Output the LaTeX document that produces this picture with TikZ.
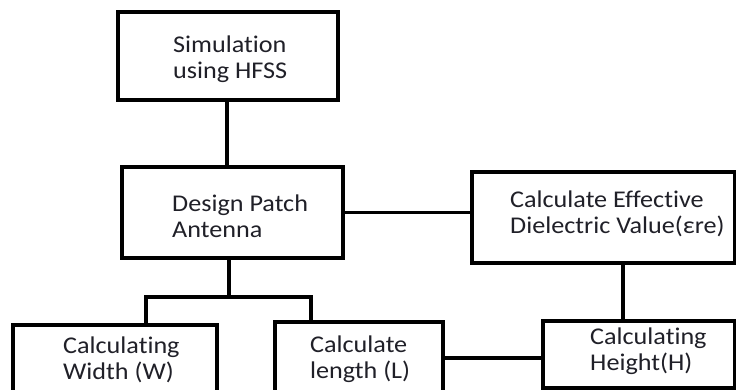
\documentclass[tikz,border=0pt]{standalone}
\usepackage{fontspec}
\setmainfont{Carlito}[Ligatures=NoCommon,FakeStretch=1.09]
\definecolor{txt}{HTML}{202028}
\begin{document}
\begin{tikzpicture}[x=1pt,y=-1pt,
  box/.style={draw=black,line width=3.6pt,inner sep=0pt,outer sep=0pt,fill=white},
  lbl/.style={anchor=west,align=left,inner sep=0pt,text=txt,font=\fontsize{24}{26}\selectfont},
  conn/.style={draw=black,line width=3.6pt},
  thin/.style={draw=black,line width=3pt}]
\useasboundingbox (0,0) rectangle (736,390);
\clip (0,0) rectangle (736,390);
\fill[white] (0,0) rectangle (736,390);
% boxes
\node[box,minimum width=220pt,minimum height=88pt] (b1) at (228,56) {};
\node[box,minimum width=221pt,minimum height=91pt] (b2) at (232.5,212.5) {};
\node[box,minimum width=263pt,minimum height=91pt] (b3) at (603.5,217.5) {};
\node[box,minimum width=204pt,minimum height=67pt] (b4) at (115,358.5) {};
\node[box,minimum width=168pt,minimum height=70pt] (b5) at (359,357) {};
\node[box,minimum width=192pt,minimum height=67pt] (b6) at (639,354.5) {};
% labels
\node[lbl] (t1) at (173,59.5) {Simulation\\using HFSS};
\node[lbl] (t2) at (172,216) {Design Patch\\Antenna};
\node[lbl] (t3) at (510,213.5) {Calculate Effective\\Dielectric Value(\symbol{"03B5}re)};
\node[lbl] (t4) at (63,359.5) {Calculating\\Width (W)};
\node[lbl] (t5) at (310,359.5) {Calculate\\length (L)};
\node[lbl] (t6) at (590,351) {Calculating\\Height(H)};
% junction coordinates
\coordinate (j) at (229,297);
\coordinate (jl) at (146,297);
\coordinate (jr) at (311,297);
\coordinate (c1) at (227,0);
\coordinate (c3) at (623,0);
\coordinate (y23) at (0,213);
\coordinate (y56) at (0,358);
% connectors
\draw[conn] (b1.south -| c1) -- (b2.north -| c1);
\draw[thin] (b2.east |- y23) -- (b3.west |- y23);
\draw[conn] (b2.south -| j) -- (j);
\draw[conn,line join=miter] (b4.north -| jl) -- (jl) -- (jr) -- (b5.north -| jr);
\draw[conn] (b3.south -| c3) -- (b6.north -| c3);
\draw[conn] (b5.east |- y56) -- (b6.west |- y56);
\end{tikzpicture}
\end{document}
